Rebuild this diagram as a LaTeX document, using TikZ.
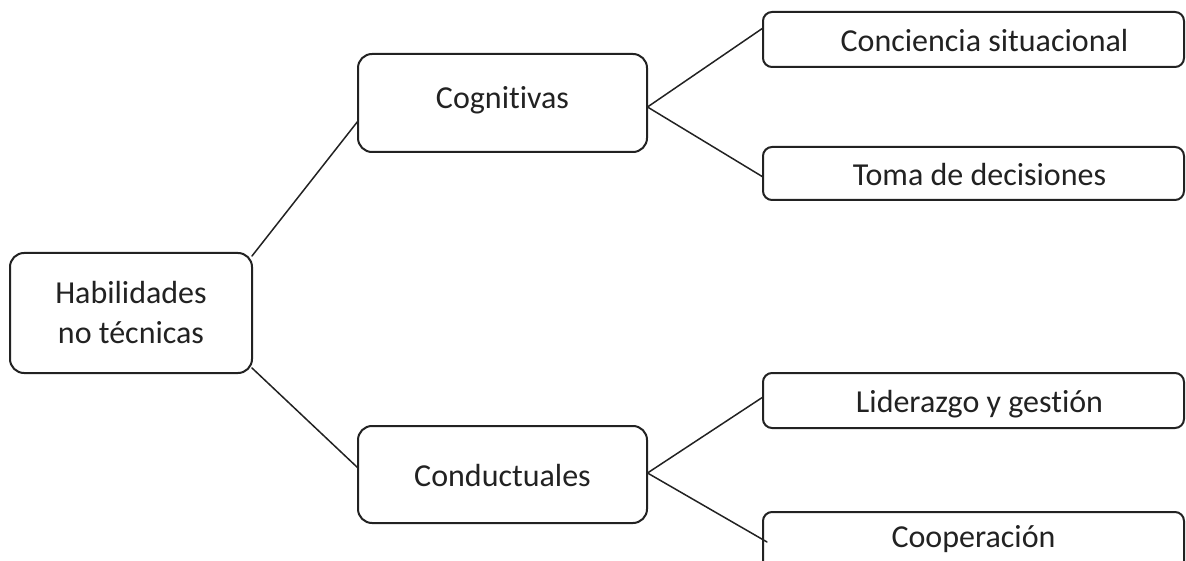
\documentclass[tikz,border=0pt]{standalone}
\usepackage{fontspec}
\setmainfont[Ligatures=NoCommon]{Carlito}
\usetikzlibrary{calc}
\definecolor{ink}{HTML}{222222}
\tikzset{
  box/.style={draw=ink, line width=2pt, rounded corners=14pt, fill=white,
    inner sep=0pt, outer sep=0pt, align=center, text=ink,
    font=\fontsize{32}{40}\selectfont},
  rbox/.style={box, rounded corners=9pt, minimum width=421pt,
    text height=24pt, text depth=0pt},
  link/.style={draw=ink, line width=1.5pt, line cap=round}
}
\begin{document}
\begin{tikzpicture}[x=1pt,y=-1pt]
\useasboundingbox (0,0) rectangle (1186,561);
\clip (0,0) rectangle (1186,561);
\node[box, minimum width=242pt, minimum height=120pt] (hab) at (131,313) {Habilidades\\no técnicas};
\node[box, minimum width=289pt, minimum height=98pt, text height=12pt, text depth=0pt] (cog) at (502.5,103) {Cognitivas};
\node[box, minimum width=289pt, minimum height=97pt, text height=24pt, text depth=0pt] (con) at (502.5,474.5) {Conductuales};
\node[rbox, minimum height=55pt] (cs) at (973.5,39.5) {\hspace*{22pt}Conciencia situacional};
\node[rbox, minimum height=53pt] (td) at (973.5,173.5) {\hspace*{12pt}Toma de decisiones};
\node[rbox, minimum height=55pt] (lg) at (973.5,400.5) {\hspace*{12pt}Liderazgo y gestión};
\node[rbox, minimum height=66pt, text height=14pt, text depth=10pt] (coop) at (973.5,545) {Cooperación};
\draw[link] ($(hab.north east)+(0,3)$) -- ($(cog.west)+(0,18)$);
\draw[link] ($(hab.south east)+(0,-5)$) -- ($(con.west)+(0,-6.5)$);
\draw[link] ($(cs.west)+(0,-11.5)$) -- ($(cog.east)+(0.5,4)$) -- ($(td.west)+(0,3.5)$);
\draw[link] ($(lg.west)+(0,-3.5)$) -- ($(con.east)+(0.5,-1.5)$) -- ($(coop.west)+(4,-3)$);
\end{tikzpicture}
\end{document}
